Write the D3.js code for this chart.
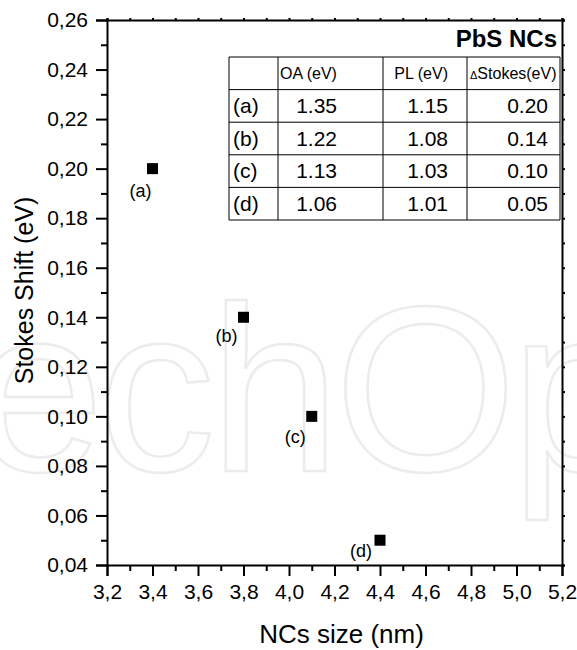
<!DOCTYPE html>
<html>
<head>
<meta charset="utf-8">
<script src="https://cdn.jsdelivr.net/npm/d3@7"></script>
<style>
  body { margin: 0; background: #fff; }
  svg { font-family: "Liberation Sans", Arial, sans-serif; display: block; }
</style>
</head>
<body>
<svg width="577" height="650"></svg>
<script>
// Data
const samples = ["(a)", "(b)", "(c)", "(d)"];
const ncSize = [3.4, 3.8, 4.1, 4.4];          // nm
const stokesShift = [0.20, 0.14, 0.10, 0.05];  // eV
const oaEnergy = ["1.35", "1.22", "1.13", "1.06"];
const plEnergy = ["1.15", "1.08", "1.03", "1.01"];
const tableHeader = ["", "OA (eV)", "PL (eV)", "\u0394Stokes(eV)"];
const xTicks = d3.range(3.2, 5.21, 0.2);
const yTicks = d3.range(0.04, 0.261, 0.02);

// label offsets from each point (px)
const labelOffset = [[-1, 28], [-6, 25], [-6, 27], [-8, 17]];

const svg = d3.select("svg");
const margin = { top: 20, right: 15, bottom: 85, left: 107 };
const width = +svg.attr("width") - margin.left - margin.right;
const height = +svg.attr("height") - margin.top - margin.bottom;

const comma = d3.formatLocale({ decimal: ",", thousands: ".", grouping: [3], currency: ["", ""] });

// faint watermark behind everything
svg.append("text")
  .attr("x", -270)
  .attr("y", 471)
  .attr("font-size", 235)
  .attr("letter-spacing", -6)
  .attr("fill", "none")
  .attr("stroke", "#ececec")
  .attr("stroke-width", 2.5)
  .text("IntechOpen");

const g = svg.append("g").attr("transform", `translate(${margin.left},${margin.top})`);

const x = d3.scaleLinear().domain([3.2, 5.2]).range([0, width]);
const y = d3.scaleLinear().domain([0.04, 0.26]).range([height, 0]);

// minor ticks
const xMinor = d3.range(3.3, 5.2, 0.2);
const yMinor = d3.range(0.05, 0.26, 0.02);

// bottom axis
const xAxis = g.append("g").attr("transform", `translate(0,${height})`)
  .call(d3.axisBottom(x).tickValues(xTicks).tickSize(11).tickPadding(8).tickFormat(comma.format(".1f")));
g.append("g").attr("transform", `translate(0,${height})`)
  .call(d3.axisBottom(x).tickValues(xMinor).tickSize(6).tickFormat(""))
  .select(".domain").remove();

// left axis
const yAxis = g.append("g")
  .call(d3.axisLeft(y).tickValues(yTicks).tickSize(11).tickPadding(8).tickFormat(comma.format(".2f")));
g.append("g")
  .call(d3.axisLeft(y).tickValues(yMinor).tickSize(6).tickFormat(""))
  .select(".domain").remove();

// top and right frame with tiny ticks
g.append("g")
  .call(d3.axisTop(x).tickValues(d3.range(3.2, 5.21, 0.1)).tickSize(2).tickFormat(""));
g.append("g").attr("transform", `translate(${width},0)`)
  .call(d3.axisRight(y).tickValues(d3.range(0.04, 0.261, 0.01)).tickSize(3).tickFormat(""));

g.selectAll(".domain").attr("stroke", "#000").attr("stroke-width", 2);
g.selectAll(".tick line").attr("stroke", "#000").attr("stroke-width", 2);
g.selectAll(".tick text").attr("font-size", 21).attr("fill", "#000")
  .attr("font-family", "Liberation Sans, Arial, sans-serif");

// data table
const colX = [122, 171, 276, 360, 453];
const tableTop = 37, rowH = 32.6, nRows = samples.length + 1;
const table = g.append("g");

table.append("text")
  .attr("x", colX[4] - 3)
  .attr("y", 27)
  .attr("text-anchor", "end")
  .attr("font-size", 24)
  .attr("font-weight", "bold")
  .text("PbS NCs");

d3.range(nRows + 1).forEach(i => {
  table.append("line")
    .attr("x1", colX[0]).attr("x2", colX[4])
    .attr("y1", tableTop + i * rowH).attr("y2", tableTop + i * rowH)
    .attr("stroke", "#000").attr("stroke-width", 1);
});
colX.forEach(cx => {
  table.append("line")
    .attr("x1", cx).attr("x2", cx)
    .attr("y1", tableTop).attr("y2", tableTop + nRows * rowH)
    .attr("stroke", "#000").attr("stroke-width", 1);
});

// header row
const headerText = table.selectAll(".head").data(tableHeader).enter().append("text")
  .attr("class", "head")
  .attr("y", tableTop + rowH / 2 + 6)
  .attr("font-size", 16);
headerText.filter((d, i) => i === 1).attr("x", colX[1] + 2);
headerText.filter((d, i) => i === 2).attr("x", colX[3] - 19).attr("text-anchor", "end");
headerText.filter((d, i) => i === 3).attr("x", colX[3] + 3).text(null)
  .call(t => {
    t.append("tspan").attr("font-size", 11).text("\u0394");
    t.append("tspan").text("Stokes(eV)");
  });
headerText.filter((d, i) => i === 1 || i === 2).text(d => d);

// body rows
const rows = table.selectAll(".row").data(samples).enter().append("g")
  .attr("class", "row")
  .attr("transform", (d, i) => `translate(0,${tableTop + (i + 1) * rowH + rowH / 2 + 7})`)
  .attr("font-size", 21);
rows.append("text").attr("x", colX[0] + 4).text(d => d);
rows.append("text").attr("x", colX[1] + 59).attr("text-anchor", "end").text((d, i) => oaEnergy[i]);
rows.append("text").attr("x", colX[3] - 19).attr("text-anchor", "end").text((d, i) => plEnergy[i]);
rows.append("text").attr("x", colX[4] - 12).attr("text-anchor", "end").text((d, i) => d3.format(".2f")(stokesShift[i]));

// points
const pts = samples.map((s, i) => ({ label: s, size: ncSize[i], shift: stokesShift[i], off: labelOffset[i] }));
g.selectAll(".pt").data(pts).enter().append("rect")
  .attr("class", "pt")
  .attr("x", d => x(d.size) - 5.5)
  .attr("y", d => y(d.shift) - 5.5)
  .attr("width", 11)
  .attr("height", 11)
  .attr("fill", "#000");

g.selectAll(".ptlabel").data(pts).enter().append("text")
  .attr("class", "ptlabel")
  .attr("x", d => x(d.size) + d.off[0])
  .attr("y", d => y(d.shift) + d.off[1])
  .attr("text-anchor", "end")
  .attr("font-size", 18)
  .text(d => d.label);

// axis titles
svg.append("text")
  .attr("text-anchor", "middle")
  .attr("transform", `translate(33, ${height / 2 + margin.top - 2}) rotate(-90)`)
  .attr("font-size", 25)
  .text("Stokes Shift (eV)");

svg.append("text")
  .attr("text-anchor", "middle")
  .attr("x", width / 2 + margin.left + 7)
  .attr("y", height + margin.top + 78)
  .attr("font-size", 26)
  .text("NCs size (nm)");
</script>
</body>
</html>
